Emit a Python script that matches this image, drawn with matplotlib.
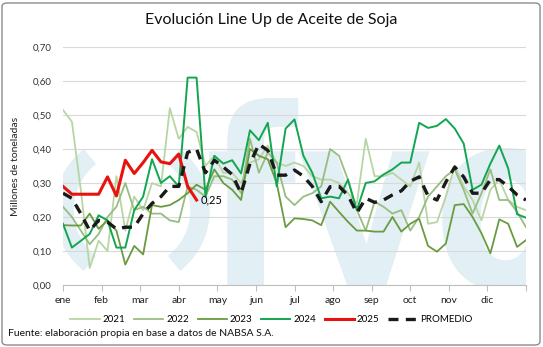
import matplotlib
matplotlib.use("Agg")
import matplotlib.pyplot as plt
from matplotlib.patches import FancyBboxPatch, Arc, PathPatch
from matplotlib.textpath import TextPath
from matplotlib.font_manager import FontProperties
from matplotlib.transforms import Affine2D
import numpy as np

plt.rcParams['font.family'] = ['Lato', 'DejaVu Sans']

months = ["ene", "feb", "mar", "abr", "may", "jun", "jul", "ago", "sep", "oct", "nov", "dic"]

s2021 = [0.515, 0.48, 0.28, 0.05, 0.13, 0.10, 0.32, 0.16, 0.26, 0.22, 0.30, 0.29, 0.52, 0.43,
         0.465, 0.45, 0.35, 0.38, 0.33, 0.33, 0.30, 0.36, 0.37, 0.41, 0.36, 0.35, 0.36, 0.35,
         0.32, 0.31, 0.31, 0.30, 0.27, 0.24, 0.43, 0.32, 0.32, 0.33, 0.31, 0.29, 0.36, 0.18,
         0.185, 0.26, 0.35, 0.29, 0.25, 0.19, 0.28, 0.31, 0.25, 0.23, 0.22]
s2022 = [0.23, 0.20, 0.16, 0.12, 0.15, 0.20, 0.23, 0.30, 0.22, 0.23, 0.21, 0.21, 0.19, 0.185,
         0.29, 0.28, 0.26, 0.32, 0.32, 0.31, 0.27, 0.43, 0.33, 0.39, 0.36, 0.26, 0.235, 0.26,
         0.27, 0.29, 0.40, 0.38, 0.31, 0.22, 0.16, 0.245, 0.23, 0.21, 0.22, 0.16, 0.20, 0.26,
         0.29, 0.32, 0.34, 0.28, 0.21, 0.27, 0.34, 0.25, 0.25, 0.215, 0.17]
s2023 = [0.176, 0.175, 0.175, 0.21, 0.165, 0.19, 0.16, 0.06, 0.115, 0.09, 0.235, 0.23, 0.235,
         0.25, 0.27, 0.295, 0.28, 0.34, 0.30, 0.28, 0.25, 0.40, 0.38, 0.37, 0.30, 0.17, 0.196,
         0.194, 0.19, 0.176, 0.245, 0.215, 0.186, 0.16, 0.16, 0.157, 0.157, 0.20, 0.157, 0.18,
         0.195, 0.115, 0.098, 0.122, 0.235, 0.238, 0.20, 0.152, 0.093, 0.193, 0.18, 0.112, 0.132]
s2024 = [0.18, 0.11, 0.13, 0.15, 0.205, 0.19, 0.11, 0.11, 0.22, 0.26, 0.37, 0.30, 0.32, 0.29,
         0.61, 0.61, 0.26, 0.38, 0.357, 0.367, 0.328, 0.455, 0.426, 0.477, 0.29, 0.46, 0.487,
         0.38, 0.33, 0.255, 0.26, 0.255, 0.31, 0.22, 0.30, 0.305, 0.325, 0.34, 0.36, 0.36, 0.477,
         0.462, 0.468, 0.488, 0.46, 0.416, 0.28, 0.295, 0.357, 0.41, 0.343, 0.208, 0.198]
s2025 = [0.29, 0.267, 0.267, 0.267, 0.267, 0.318, 0.262, 0.367, 0.328, 0.36, 0.396, 0.362,
         0.357, 0.385, 0.29, 0.25]
promedio = [0.27, 0.255, 0.21, 0.16, 0.19, 0.185, 0.165, 0.17, 0.17, 0.21, 0.24, 0.26, 0.29,
            0.29, 0.39, 0.40, 0.33, 0.367, 0.347, 0.325, 0.27, 0.357, 0.414, 0.396, 0.323, 0.323,
            0.338, 0.32, 0.29, 0.245, 0.289, 0.29, 0.264, 0.212, 0.255, 0.243, 0.25, 0.265, 0.277,
            0.305, 0.318, 0.262, 0.25, 0.303, 0.347, 0.318, 0.27, 0.27, 0.31, 0.31, 0.29, 0.265, 0.25]

W, H = 543, 347
fig = plt.figure(figsize=(W / 100, H / 100), dpi=100)
fig.patch.set_facecolor("white")

# border
fig.patches.append(FancyBboxPatch((2 / W, 2 / H), (W - 5) / W, (H - 5) / H,
                                  boxstyle="round,pad=0,rounding_size=0.01",
                                  transform=fig.transFigure, facecolor="none",
                                  edgecolor="#8c8c8c", linewidth=1.0))

ax = fig.add_axes([63 / W, (H - 285) / H, 463 / W, 238 / H])
ax.set_facecolor("none")

# watermark logo (drawn as a shape)
wm = "#e2eff4"
pix = Affine2D().scale(1 / W, 1 / H) + fig.transFigure
tp = TextPath((0, 0), "fyo", size=250, prop=FontProperties(family="DejaVu Sans", weight="bold"))
logo_tf = Affine2D().scale(0.84, 1.0).translate(205, H - 288) + pix
pp = PathPatch(tp, facecolor=wm, edgecolor="none", transform=logo_tf, zorder=0)
ax.add_patch(pp)
pp.set_clip_path(ax.patch)
ax.add_patch(Arc((0.149, 0.315), 0.294, 0.571, theta1=112, theta2=248, transform=ax.transAxes,
                 color=wm, linewidth=14, zorder=0))
ax.add_patch(Arc((0.149, 0.315), 0.294, 0.571, theta1=-68, theta2=68, transform=ax.transAxes,
                 color=wm, linewidth=14, zorder=0))

x = np.arange(len(s2024))
ax.plot(x, s2021, color="#b8d6a4", lw=1.3, label="2021", zorder=2)
ax.plot(x, s2022, color="#98bd80", lw=1.3, label="2022", zorder=2)
ax.plot(x, s2023, color="#6a9b40", lw=1.3, label="2023", zorder=2)
ax.plot(x, s2024, color="#12a650", lw=1.4, label="2024", zorder=3)
ax.plot(np.arange(len(s2025)), s2025, color="#e8120f", lw=2.2, label="2025", zorder=4)
ax.plot(x, promedio, color="#1a1a1a", lw=2.4, ls=(0, (3, 2.2)), label="PROMEDIO", zorder=5)

ax.annotate("0,25", (len(s2025) - 1, s2025[-1]), xytext=(3, 0), textcoords="offset points",
            fontsize=8, ha="left", va="center", color="black")

ax.set_xlim(0, 52)
ax.set_ylim(0, 0.70)
yt = np.round(np.arange(0, 0.71, 0.1), 2)
ax.set_yticks(yt)
ax.set_yticklabels([f"{v:.2f}".replace(".", ",") for v in yt], fontsize=7, color="#333333")
mt = [k * 52 / 12 for k in range(12)]
ax.set_xticks(mt + [52])
ax.set_xticklabels(months + [""], fontsize=7.5, color="#222222")
ax.tick_params(axis="y", length=0, pad=8)
ax.tick_params(axis="x", length=4, color="#bfbfbf", direction="out", pad=4)
ax.grid(axis="y", color="#d9d9d9", lw=0.8, zorder=1)
ax.set_axisbelow(True)
for s in ["top", "right", "left"]:
    ax.spines[s].set_visible(False)
ax.spines["bottom"].set_color("#bfbfbf")
ax.set_ylabel("Millones de toneladas", fontsize=7.5, color="#222222", labelpad=9)

fig.text(0.5, 1 - 20 / H, "Evolución Line Up de Aceite de Soja", ha="center", va="center",
         fontsize=11.5, color="#111111")

leg = fig.legend(loc="center", bbox_to_anchor=(0.50, 1 - 320 / H), ncol=6, frameon=False,
                 fontsize=7, handlelength=3.0, columnspacing=0.9, handletextpad=0.3)
fig.text(8 / W, 1 - 334 / H, "Fuente: elaboración propia en base a datos de NABSA S.A.",
         ha="left", va="center", fontsize=7.5, color="#111111")

fig.savefig("out.png", dpi=100)
